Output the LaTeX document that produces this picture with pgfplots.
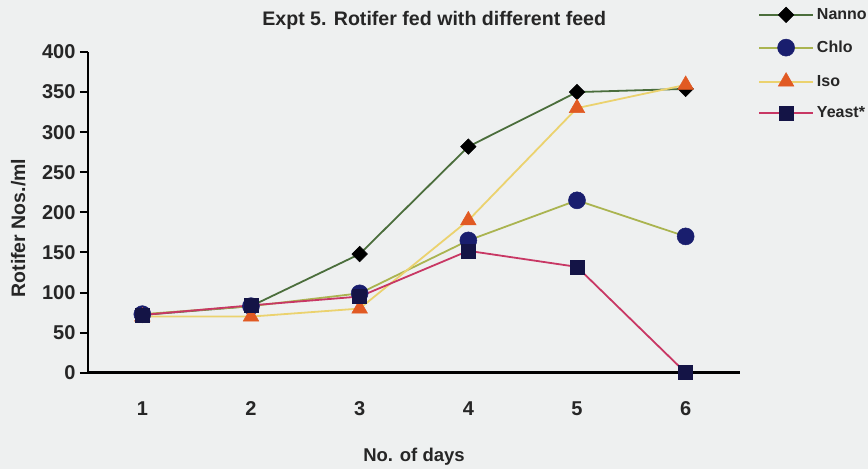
\documentclass[border=0pt]{standalone}
\usepackage{pgfplots}
\pgfplotsset{compat=1.18}
\usepackage{fontspec}
\setmainfont{Liberation Sans}
\usepackage{xcolor}
\definecolor{bg}{RGB}{238,240,240}
\definecolor{nannoL}{RGB}{75,110,60}
\definecolor{chloL}{RGB}{170,180,80}
\definecolor{isoL}{RGB}{235,210,110}
\definecolor{yeastL}{RGB}{200,55,100}
\definecolor{chloM}{RGB}{25,30,110}
\definecolor{isoM}{RGB}{225,90,35}
\definecolor{yeastM}{RGB}{20,20,70}
\begin{document}
\begin{tikzpicture}
\fill[bg] (0,0) rectangle (868pt,-469pt);
\useasboundingbox (0,0) rectangle (868pt,-469pt);
\begin{axis}[
  at={(88pt,-372.7pt)}, anchor=south west,
  scale only axis, width=652pt, height=320.7pt,
  xmin=0.5, xmax=6.5, ymin=0, ymax=400,
  axis x line=bottom, axis y line=left,
  axis line style={line width=2.6pt,-},
  xtick={1,2,3,4,5,6},
  ytick={0,50,100,150,200,250,300,350,400},
  tick align=outside,
  major tick length=8pt,
  xtick style={draw=none},
  ytick style={line width=2pt,black},
  /pgf/number format/assume math mode=true,
  tick label style={font=\fontsize{20}{22}\selectfont\bfseries, text=black!85},
  xticklabel style={yshift=-17pt},
  yticklabel style={xshift=-1pt},
  title={Expt 5. Rotifer fed with different feed},
  title style={at={(rel axis cs:0.531,1.081)}, anchor=center, font=\fontsize{19.6}{21}\selectfont\bfseries, text=black!85},
  xlabel={No. of days},
  xlabel style={at={(rel axis cs:0.5,-0.262)}, anchor=center, font=\fontsize{18.5}{20}\selectfont\bfseries, text=black!85},
  ylabel={Rotifer Nos./ml},
  ylabel style={at={(rel axis cs:-0.107,0.451)}, anchor=center, rotate=0, font=\fontsize{19.5}{21}\selectfont\bfseries, text=black!85},
  legend style={at={(rel axis cs:1.023,1.147)}, anchor=north west, draw=none, fill=none,
    font=\fontsize{16}{18}\selectfont\bfseries, text=black!85,
    nodes={inner sep=0pt, text height=12pt, text depth=3pt},
    row sep=16.5pt, column sep=3pt},
  legend cell align=left,
  legend image code/.code={\draw[mark repeat=2,mark phase=2,#1] plot coordinates {(0pt,0pt) (27pt,0pt) (54pt,0pt)};},
  clip=false,
]
\addplot[color=nannoL, line width=1.8pt, mark=square*, mark size=5.5pt,
  mark options={rotate=45, fill=black, draw=black, line width=0.5pt}]
  coordinates {(1,72) (2,83) (3,148) (4,282) (5,350) (6,354)};
\addlegendentry{Nanno}
\addplot[color=chloL, line width=1.8pt, mark=*, mark size=8.5pt,
  mark options={fill=chloM, draw=chloM, line width=0.5pt}]
  coordinates {(1,73) (2,83) (3,99) (4,165) (5,215) (6,170)};
\addlegendentry{Chlo}
\addplot[color=isoL, line width=1.8pt, mark=triangle*, mark size=9pt,
  mark options={fill=isoM, draw=isoM, line width=0.5pt}]
  coordinates {(1,70) (2,70) (3,80) (4,190) (5,330) (6,359)};
\addlegendentry{Iso}
\addplot[color=yeastL, line width=1.8pt, mark=square*, mark size=7pt,
  mark options={fill=yeastM, draw=yeastM, line width=0.5pt}]
  coordinates {(1,72) (2,84) (3,95) (4,152) (5,132) (6,0)};
\addlegendentry{Yeast*}
\end{axis}
\end{tikzpicture}
\end{document}
